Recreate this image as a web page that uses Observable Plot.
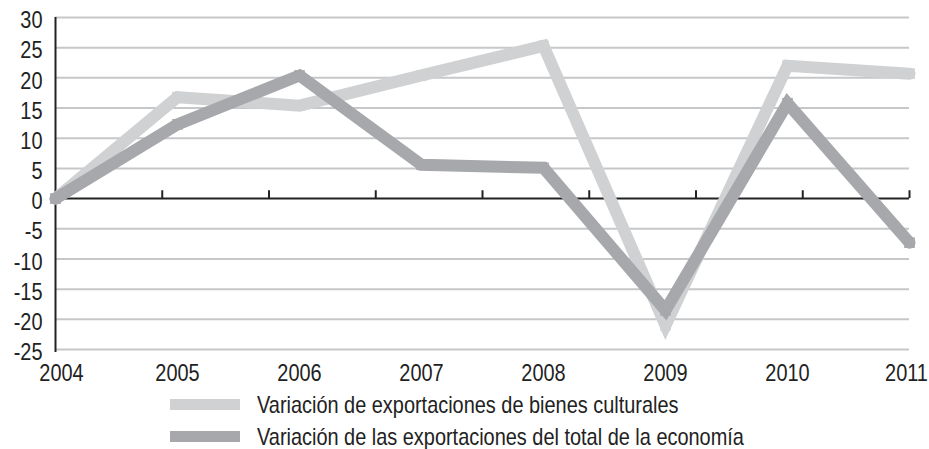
<!DOCTYPE html>
<html>
<head>
<meta charset="utf-8">
<script src="https://cdn.jsdelivr.net/npm/d3@7"></script>
<script src="https://cdn.jsdelivr.net/npm/@observablehq/plot@0.6"></script>
<style>
  html, body { margin: 0; padding: 0; background: #fff; }
  #wrap { position: relative; width: 929px; height: 449px; font-family: "Liberation Sans", Arial, sans-serif; color: #222; }
  .sw { position: absolute; left: 170px; width: 70px; height: 11px; }
  .lt { position: absolute; left: 257px; font-size: 24px; line-height: 1; white-space: nowrap; transform: scaleX(0.83); transform-origin: 0 50%; }
</style>
</head>
<body>
<div id="wrap"></div>
<script>
const years = [2004, 2005, 2006, 2007, 2008, 2009, 2010, 2011];
const cultural = [0, 16.8, 15.4, 20.4, 25.3, -21, 22.0, 20.7];
const total = [0, 12.3, 20.4, 5.6, 5.1, -18.5, 15.8, -7.3];
const yTicks = [-25, -20, -15, -10, -5, 0, 5, 10, 15, 20, 25, 30];
const seriesNames = ["Variación de exportaciones de bienes culturales", "Variación de las exportaciones del total de la economía"];
const colors = ["#d0d1d3", "#a7a8ab"];

const dataC = years.map((y, i) => ({year: y, value: cultural[i]}));
const dataT = years.map((y, i) => ({year: y, value: total[i]}));
// 8 equal divisions of the horizontal axis for the zero-line tick marks
const zeroTicks = d3.range(1, 9).map(k => 2004 + k * 7 / 8);

const chart = Plot.plot({
  width: 929,
  height: 390,
  marginLeft: 55,
  marginRight: 20,
  marginTop: 17,
  marginBottom: 41,
  style: {fontFamily: "'Liberation Sans', Arial, sans-serif", fontSize: "24px", color: "#222", background: "#fff", overflow: "visible"},
  x: {domain: [2004, 2011]},
  y: {domain: [-25, 30]},
  marks: [
    Plot.ruleY(yTicks.filter(d => d !== 0), {stroke: "#c6c7c9", strokeWidth: 2}),
    Plot.ruleX([2004], {y1: -25.5, y2: 30, stroke: "#222", strokeWidth: 2}),
    Plot.ruleY([0], {stroke: "#222", strokeWidth: 2}),
    Plot.ruleX(zeroTicks, {y1: 0, y2: 1.3, stroke: "#222", strokeWidth: 2}),
    Plot.line(dataC, {x: "year", y: "value", stroke: colors[0], strokeWidth: 12, strokeLinejoin: "miter", strokeMiterlimit: 10}),
    Plot.dot(dataC, {x: "year", y: "value", symbol: "square", r: 6, fill: colors[0]}),
    Plot.line(dataT, {x: "year", y: "value", stroke: colors[1], strokeWidth: 12, strokeLinejoin: "miter", strokeMiterlimit: 10}),
    Plot.dot(dataT, {x: "year", y: "value", symbol: "square", r: 6, fill: colors[1]}),
    Plot.axisX({ticks: years, tickFormat: d => String(d), tickSize: 0, tickPadding: 14, label: null}),
    Plot.axisY({ticks: yTicks, tickFormat: d => String(d), tickSize: 0, tickPadding: 13, dy: 3, label: null})
  ]
});
// condense the tick labels horizontally (reference uses a narrow typeface)
chart.querySelectorAll('g[aria-label$="tick label"] text').forEach(t => {
  const tr = t.getAttribute("transform") || "";
  const nudge = t.textContent === "2004" ? " translate(6,0)" : t.textContent === "2011" ? " translate(-3,0)" : "";
  t.setAttribute("transform", tr + nudge + " scale(0.83,1)");
});
const wrap = document.getElementById("wrap");
wrap.appendChild(chart);
seriesNames.forEach((name, i) => {
  const sw = document.createElement("div");
  sw.className = "sw";
  sw.style.top = (i === 0 ? 399 : 431) + "px";
  sw.style.background = colors[i];
  const t = document.createElement("div");
  t.className = "lt";
  t.style.top = (i === 0 ? 393 : 425) + "px";
  t.textContent = name;
  wrap.appendChild(sw);
  wrap.appendChild(t);
});
</script>
</body>
</html>
